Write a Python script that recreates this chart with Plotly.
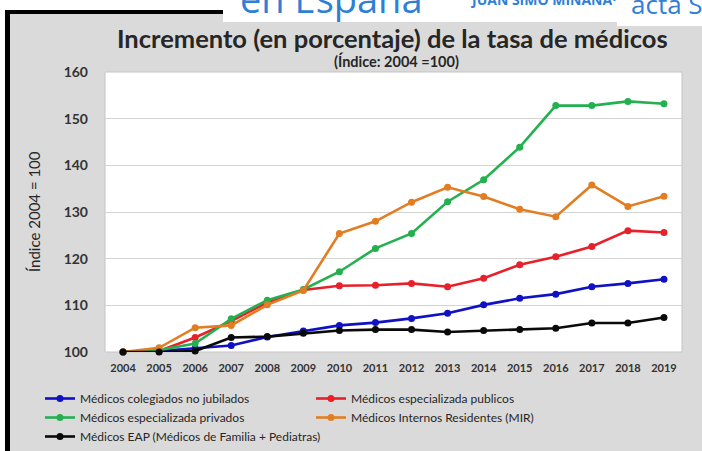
import plotly.graph_objects as go

years = [str(y) for y in range(2004, 2020)]
colegiados = [100, 100.2, 100.8, 101.4, 103.2, 104.5, 105.7, 106.3, 107.2, 108.3, 110.1, 111.5, 112.4, 114.0, 114.7, 115.6]
publicos = [100, 100.2, 103.1, 106.6, 110.6, 113.3, 114.2, 114.3, 114.7, 114.0, 115.8, 118.7, 120.4, 122.6, 126.0, 125.6]
privados = [100, 100.4, 101.8, 107.1, 111.1, 113.4, 117.2, 122.2, 125.4, 132.2, 136.9, 143.9, 152.8, 152.8, 153.7, 153.2]
mir = [100, 100.9, 105.2, 105.7, 110.1, 113.2, 125.4, 128.0, 132.1, 135.3, 133.3, 130.6, 129.0, 135.8, 131.2, 133.4]
eap = [100, 100.0, 100.2, 103.1, 103.3, 104.0, 104.6, 104.8, 104.8, 104.3, 104.6, 104.8, 105.1, 106.2, 106.2, 107.4]
end_labels = ["116", "126", "153", "134", "108"]

series_names = [
    "Médicos colegiados no jubilados",
    "Médicos especializada publicos",
    "Médicos especializada privados",
    "Médicos Internos Residentes (MIR)",
    "Médicos EAP (Médicos de Familia + Pediatras)",
]
series_values = [colegiados, publicos, privados, mir, eap]
colors = ["#1010c4", "#e8202a", "#25b050", "#e37d22", "#0a0a0a"]

W, H = 702, 451
L, R, T, B = 105, 20, 72, 99
PW, PH = W - L - R, H - T - B


def px(x):
    return (x - L) / PW


def py(y):
    return (H - B - y) / PH


fig = go.Figure()
for name, vals, col in zip(series_names, series_values, colors):
    fig.add_trace(go.Scatter(
        x=years, y=vals, name=name, mode="lines+markers",
        line=dict(color=col, width=2.6),
        marker=dict(color=col, size=7),
        cliponaxis=False,
    ))

for vals, lab in zip(series_values, end_labels):
    fig.add_annotation(x=years[-1], y=vals[-1], text=lab, showarrow=False,
                       xanchor="left", yanchor="middle", xshift=5,
                       font=dict(family="Lato", size=15, color="#262626", weight="bold"))

shapes = [
    # white margins outside the black frame
    dict(type="rect", xref="paper", yref="paper", x0=px(-5), x1=px(5), y0=py(H + 5), y1=py(-5),
         fillcolor="#ffffff", line=dict(width=0), layer="below"),
    dict(type="rect", xref="paper", yref="paper", x0=px(-5), x1=px(W + 5), y0=py(10), y1=py(-5),
         fillcolor="#ffffff", line=dict(width=0), layer="below"),
    # black frame
    dict(type="rect", xref="paper", yref="paper", x0=px(5), x1=px(10), y0=py(H + 5), y1=py(10),
         fillcolor="#000000", line=dict(width=0), layer="below"),
    dict(type="rect", xref="paper", yref="paper", x0=px(5), x1=px(W + 5), y0=py(14), y1=py(10),
         fillcolor="#000000", line=dict(width=0), layer="below"),
    # white header boxes
    dict(type="rect", xref="paper", yref="paper", x0=px(223), x1=px(W + 5), y0=py(22), y1=py(-5),
         fillcolor="#ffffff", line=dict(width=0), layer="below"),
    dict(type="rect", xref="paper", yref="paper", x0=px(617), x1=px(W + 5), y0=py(26), y1=py(-5),
         fillcolor="#ffffff", line=dict(width=0), layer="below"),
    # white plot area
    dict(type="rect", xref="paper", yref="paper", x0=0, x1=1, y0=0, y1=1,
         fillcolor="#ffffff", line=dict(width=1, color="#c4c4c4"), layer="below"),
]

annos = [
    dict(text="en España", x=px(331), y=py(14), xanchor="center", yanchor="bottom", yshift=-12,
         font=dict(family="Open Sans", size=38, color="#2f7fd6")),
    dict(text="JUAN SIMÓ MIÑANA·", x=px(468), y=py(11), xanchor="left", yanchor="bottom",
         font=dict(family="Open Sans", size=14, color="#2f7fd6", weight="bold")),
    dict(text="acta S", x=px(629), y=py(16), xanchor="left", yanchor="bottom", yshift=-8,
         font=dict(family="Open Sans", size=26, color="#2f7fd6")),
    dict(text="Incremento (en porcentaje) de la tasa de médicos", x=px(392), y=py(38),
         xanchor="center", yanchor="middle",
         font=dict(family="Lato", size=25.5, color="#262626", weight="bold")),
    dict(text="(Índice: 2004 =100)", x=px(396), y=py(61), xanchor="center", yanchor="middle",
         font=dict(family="Lato", size=14.5, color="#262626", weight="bold")),
    dict(text="Índice 2004 = 100", x=px(34), y=py(212), xanchor="center", yanchor="middle",
         textangle=-90, font=dict(family="Lato", size=15, color="#262626")),
]
for a in annos:
    fig.add_annotation(xref="paper", yref="paper", showarrow=False, **a)

fig.update_layout(
    width=W, height=H,
    margin=dict(l=L, r=R, t=T, b=B, autoexpand=False),
    paper_bgcolor="#dadada",
    plot_bgcolor="rgba(0,0,0,0)",
    shapes=shapes,
    showlegend=True,
    legend=dict(orientation="h", xref="container", yref="container",
                x=40 / W, y=1 - 384 / H, xanchor="left", yanchor="top",
                entrywidth=226, bgcolor="rgba(0,0,0,0)",
                font=dict(family="Lato", size=12, color="#262626"),
                tracegroupgap=0, itemwidth=30),
    xaxis=dict(type="category", range=[-0.5, 15.5], showgrid=False, zeroline=False,
               showline=False, ticks="", ticklabelstandoff=8,
               tickfont=dict(family="Lato", size=11, color="#333333", weight="bold")),
    yaxis=dict(range=[100, 160], dtick=10, showgrid=True, gridcolor="#d4d4d4", gridwidth=1.2,
               zeroline=False, showline=False, ticks="", ticklabelstandoff=16,
               tickfont=dict(family="Lato", size=14, color="#333333", weight="bold")),
)

fig.write_html(
    "out.html",
    config={"displayModeBar": False},
    post_script=(
        "document.body.style.margin='0';"
        "document.body.style.overflow='hidden';"
        "document.documentElement.style.overflow='hidden';"
    ),
)
